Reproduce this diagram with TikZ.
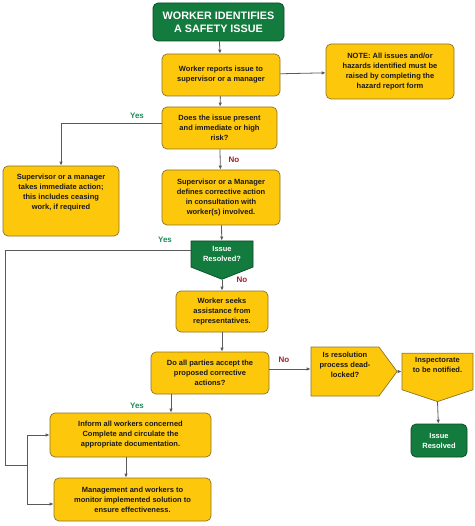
\documentclass[tikz,border=0pt]{standalone}
\usepackage{fontspec}
\setmainfont{Liberation Sans}
\usetikzlibrary{shapes.symbols,arrows.meta}
\definecolor{amber}{HTML}{FDC70C}
\definecolor{amberline}{HTML}{8C7424}
\definecolor{leaf}{HTML}{137B3D}
\definecolor{leafline}{HTML}{0A4A24}
\definecolor{wire}{HTML}{5A5A5A}
\definecolor{yescol}{HTML}{1E8A5A}
\definecolor{nocol}{HTML}{A01E28}

\begin{document}
\begin{tikzpicture}[x=1pt,y=-1pt,
  stepbox/.style={draw=amberline, fill=amber, rounded corners=5pt, line width=0.7pt, align=center,
    font=\bfseries\fontsize{7.5}{10}\selectfont, text=black!90, inner sep=1pt},
  endbox/.style={stepbox, draw=leafline, fill=leaf, text=white},
  flag/.style={signal, draw=amberline, fill=amber, line width=0.7pt, align=center,
    font=\bfseries\fontsize{7.5}{10}\selectfont, text=black!90, inner sep=1pt},
  link/.style={draw=wire, line width=0.8pt, -{Latex[length=4pt,width=3.5pt]}},
  wireline/.style={draw=wire, line width=0.8pt},
  yes/.style={text=yescol, font=\bfseries\fontsize{8}{9}\selectfont},
  no/.style={text=nocol, font=\bfseries\fontsize{8}{9}\selectfont}]
\useasboundingbox (0,0) rectangle (474,526);

\node[endbox, minimum width=131pt, minimum height=38pt, font=\bfseries\fontsize{10.8}{13}\selectfont] (start) at (218.5,22) {WORKER IDENTIFIES\\A SAFETY ISSUE};
\node[stepbox, minimum width=118pt, minimum height=42pt] (report) at (221,75) {Worker reports issue to\\supervisor or a manager};
\node[stepbox, minimum width=128pt, minimum height=55pt] (note) at (390,71.5) {NOTE: All issues and/or\\hazards identified must be\\raised by completing the\\hazard report form};
\node[stepbox, minimum width=115pt, minimum height=42pt] (risk) at (219.5,128) {Does the issue present\\and immediate or high\\risk?};
\node[stepbox, minimum width=116pt, minimum height=70pt] (act) at (61,201) {Supervisor or a manager\\takes immediate action;\\this includes ceasing\\work, if required\\[8pt]\mbox{}};
\node[stepbox, minimum width=118pt, minimum height=55pt] (define) at (221,197.5) {Supervisor or a Manager\\defines corrective action\\in consultation with\\worker(s) involved.};
\node[flag, draw=leafline, fill=leaf, text=white, signal to=south, signal pointer angle=137, minimum width=62pt, minimum height=34pt] (solved) at (222,254) {Issue\\Resolved?};
\node[stepbox, minimum width=92pt, minimum height=41pt] (seek) at (222,311.5) {Worker seeks\\assistance from\\representatives.};
\node[stepbox, minimum width=118pt, minimum height=42pt] (accept) at (210,373) {Do all parties accept the\\proposed corrective\\actions?};
\node[flag, signal to=east, signal pointer angle=107, minimum width=86pt, minimum height=49pt] (lock) at (345,371.5) {Is resolution\\process dead-\\locked?\\[3pt]\mbox{}};
\node[flag, signal to=south, signal pointer angle=143, minimum width=71pt, minimum height=45pt] (notify) at (437.5,371.5) {Inspectorate\\to be notified.\\[4pt]\mbox{}};
\node[endbox, minimum width=56pt, minimum height=33pt] (closed) at (439,440.5) {Issue\\Resolved};
\node[stepbox, minimum width=161pt, minimum height=44pt] (inform) at (130.5,435) {Inform all workers concerned\\Complete and circulate the\\appropriate documentation.};
\node[stepbox, minimum width=157pt, minimum height=43pt] (monitor) at (132.5,499.5) {Management and workers to\\monitor implemented solution to\\ensure effectiveness.};

\node[yes] (yes1) at (137,116) {Yes};
\node[no] (no1) at (234,160) {No};
\node[yes] (yes2) at (165,240) {Yes};
\node[no] (no2) at (242,280) {No};
\node[no] (no3) at (284,360) {No};
\node[yes] (yes3) at (137,406) {Yes};

\coordinate (far) at (5,465);
\coordinate (fork) at (27,465);

\draw[link] (start) -- (report);
\draw[link] (report) -- (note);
\draw[link] (report) -- (risk);
\draw[link] (risk.west |- 0,123) -| (act.north);
\draw[link] (risk) -- (define);
\draw[link] (define) -- (solved);
\draw[wireline] (solved.west |- 0,250) -| (far) -- (fork);
\draw[link] (fork) |- (inform.west);
\draw[link] (fork) |- (monitor.west |- 0,504);
\draw[link] (solved.south) -- (seek);
\draw[link] (seek.south) -- (seek.south |- accept.north);
\draw[link] (accept.east |- 0,369) -- (lock.west |- 0,369);
\draw[link] (lock.east) -- (notify.west |- lock.east);
\draw[link] (notify.south) -- (closed);
\draw[link] (accept.south -| 171,0) -- (inform.north -| 171,0);
\draw[link] (inform.south -| 126,0) -- (monitor.north -| 126,0);
\end{tikzpicture}
\end{document}
